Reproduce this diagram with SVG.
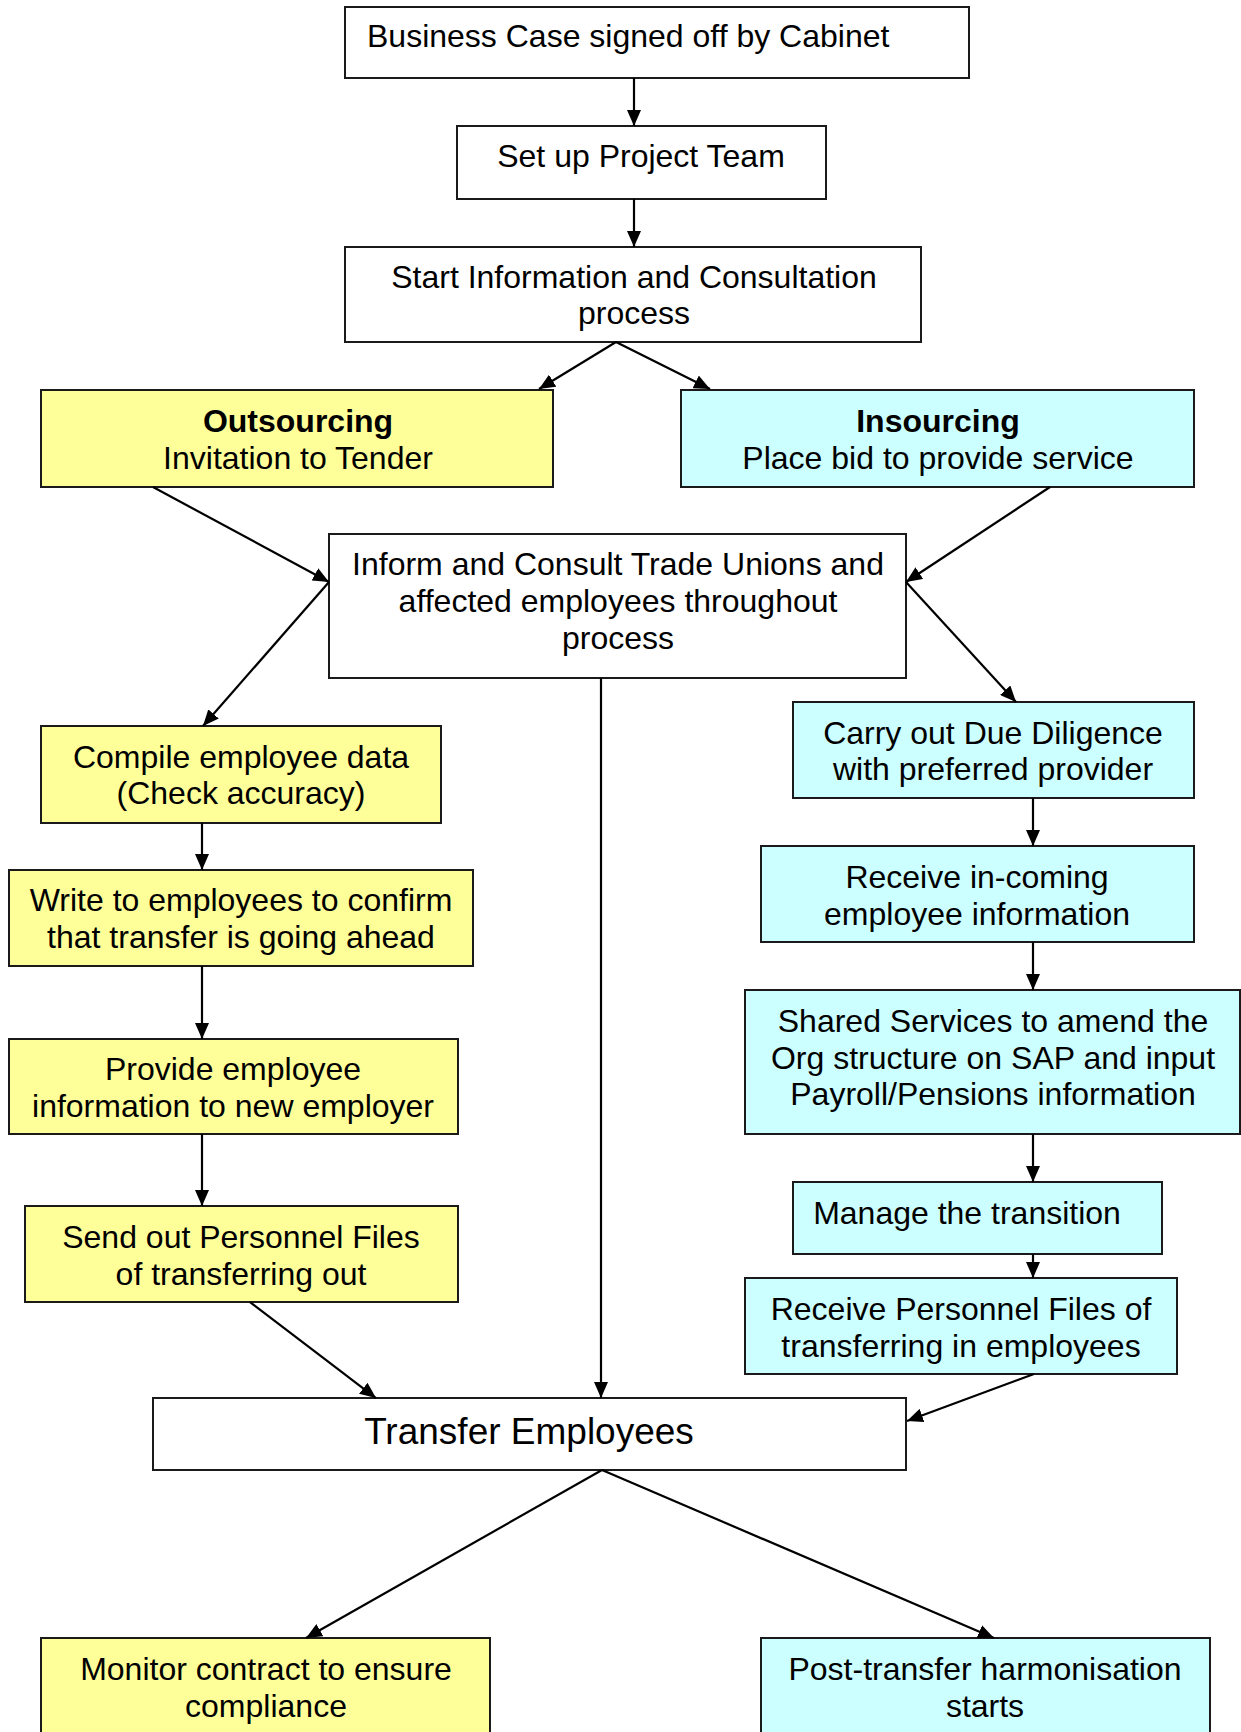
<svg xmlns="http://www.w3.org/2000/svg" width="1241" height="1732" viewBox="0 0 1241 1732">
<defs>
<style>
.box{stroke:#1a1a1a;stroke-width:2}
.w{fill:#ffffff}
.y{fill:#ffff99}
.c{fill:#ccffff}
text{font-family:"Liberation Sans",Arial,sans-serif;font-size:32px;fill:#000;text-anchor:middle}
.b{font-weight:bold}
.big{font-size:37px}
.conn line{stroke:#000;stroke-width:2.2;marker-end:url(#ah)}
</style>
<marker id="ah" markerUnits="userSpaceOnUse" markerWidth="16" markerHeight="14" viewBox="0 0 16 14" refX="16" refY="7" orient="auto">
<path d="M0,0 L16,7 L0,14 z" fill="#000"/>
</marker>
</defs>
<rect width="1241" height="1732" fill="#ffffff"/>

<g id="n1"><rect class="box w" x="345" y="7" width="624" height="71"/>
<text x="367" y="47" style="text-anchor:start">Business Case signed off by Cabinet</text></g>

<g id="n2"><rect class="box w" x="457" y="126" width="369" height="73"/>
<text x="641" y="167">Set up Project Team</text></g>

<g id="n3"><rect class="box w" x="345" y="247" width="576" height="95"/>
<text x="634" y="288">Start Information and Consultation</text>
<text x="634" y="324">process</text></g>

<g id="n4"><rect class="box y" x="41" y="390" width="512" height="97"/>
<text x="298" y="432" class="b">Outsourcing</text>
<text x="298" y="469">Invitation to Tender</text></g>

<g id="n5"><rect class="box c" x="681" y="390" width="513" height="97"/>
<text x="938" y="432" class="b">Insourcing</text>
<text x="938" y="469">Place bid to provide service</text></g>

<g id="n6"><rect class="box w" x="329" y="534" width="577" height="144"/>
<text x="618" y="575">Inform and Consult Trade Unions and</text>
<text x="618" y="612">affected employees throughout</text>
<text x="618" y="649">process</text></g>

<g id="n7"><rect class="box y" x="41" y="726" width="400" height="97"/>
<text x="241" y="768">Compile employee data</text>
<text x="241" y="804">(Check accuracy)</text></g>

<g id="n8"><rect class="box y" x="9" y="870" width="464" height="96"/>
<text x="241" y="911">Write to employees to confirm</text>
<text x="241" y="948">that transfer is going ahead</text></g>

<g id="n9"><rect class="box y" x="9" y="1039" width="449" height="95"/>
<text x="233" y="1080">Provide employee</text>
<text x="233" y="1117">information to new employer</text></g>

<g id="n10"><rect class="box y" x="25" y="1206" width="433" height="96"/>
<text x="241" y="1248">Send out Personnel Files</text>
<text x="241" y="1285">of transferring out</text></g>

<g id="n11"><rect class="box c" x="793" y="702" width="401" height="96"/>
<text x="993" y="744">Carry out Due Diligence</text>
<text x="993" y="780">with preferred provider</text></g>

<g id="n12"><rect class="box c" x="761" y="846" width="433" height="96"/>
<text x="977" y="888">Receive in-coming</text>
<text x="977" y="925">employee information</text></g>

<g id="n13"><rect class="box c" x="745" y="990" width="495" height="144"/>
<text x="993" y="1032">Shared Services to amend the</text>
<text x="993" y="1069">Org structure on SAP and input</text>
<text x="993" y="1105">Payroll/Pensions information</text></g>

<g id="n14"><rect class="box c" x="793" y="1182" width="369" height="72"/>
<text x="967" y="1224">Manage the transition</text></g>

<g id="n15"><rect class="box c" x="745" y="1278" width="432" height="96"/>
<text x="961" y="1320">Receive Personnel Files of</text>
<text x="961" y="1357">transferring in employees</text></g>

<g id="n16"><rect class="box w" x="153" y="1398" width="753" height="72"/>
<text x="529" y="1444" class="big">Transfer Employees</text></g>

<g id="n17"><rect class="box y" x="41" y="1638" width="449" height="110"/>
<text x="266" y="1680">Monitor contract to ensure</text>
<text x="266" y="1717">compliance</text></g>

<g id="n18"><rect class="box c" x="761" y="1638" width="449" height="110"/>
<text x="985" y="1680">Post-transfer harmonisation</text>
<text x="985" y="1717">starts</text></g>

<g id="connectors" class="conn">
<line x1="634" y1="78" x2="634" y2="126"/>
<line x1="634" y1="199" x2="634" y2="247"/>
<line x1="616" y1="342" x2="539" y2="389"/>
<line x1="616" y1="342" x2="710" y2="389"/>
<line x1="153" y1="487" x2="329" y2="582"/>
<line x1="1050" y1="487" x2="906" y2="582"/>
<line x1="329" y1="582" x2="203" y2="726"/>
<line x1="906" y1="582" x2="1016" y2="702"/>
<line x1="202" y1="823" x2="202" y2="870"/>
<line x1="202" y1="966" x2="202" y2="1039"/>
<line x1="202" y1="1134" x2="202" y2="1206"/>
<line x1="250" y1="1302" x2="376" y2="1398"/>
<line x1="601" y1="678" x2="601" y2="1398"/>
<line x1="1033" y1="798" x2="1033" y2="846"/>
<line x1="1033" y1="942" x2="1033" y2="990"/>
<line x1="1033" y1="1134" x2="1033" y2="1182"/>
<line x1="1033" y1="1254" x2="1033" y2="1278"/>
<line x1="1034" y1="1374" x2="907" y2="1421"/>
<line x1="602" y1="1470" x2="306" y2="1638"/>
<line x1="602" y1="1470" x2="994" y2="1638"/>
</g>
</svg>
